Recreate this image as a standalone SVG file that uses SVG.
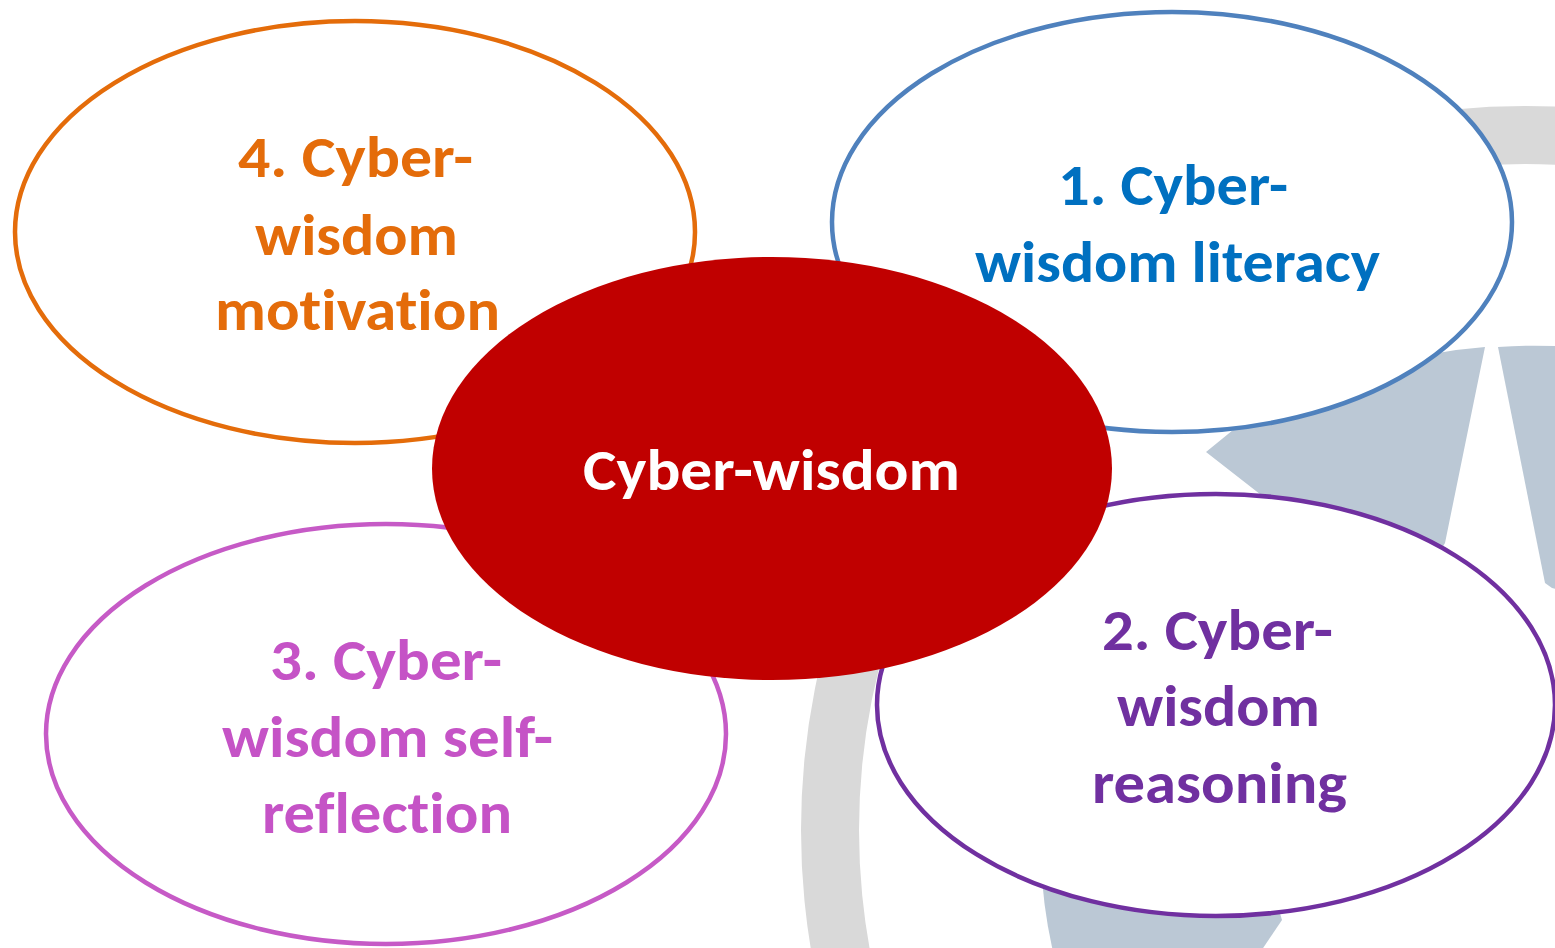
<svg xmlns="http://www.w3.org/2000/svg" width="1555" height="948" viewBox="0 0 1555 948">
<style>
.bg{fill:#ffffff}
.ring{fill:#d9d9d9;fill-rule:evenodd}
.arrow{fill:#bbc8d5}
.node{fill:#ffffff;stroke-width:4.5}
.t{font-family:Carlito,Lato,"Open Sans",sans-serif;font-weight:bold;font-size:59px;font-variant-ligatures:none;font-feature-settings:"liga" 0,"clig" 0}
.n4{stroke:#e46c0a}.t4{fill:#e46c0a}
.n1{stroke:#4f81bd}.t1{fill:#0070c0}
.n3{stroke:#c65ac6}.t3{fill:#c553c6}
.n2{stroke:#7030a0}.t2{fill:#7030a0}
.center{fill:#c00000}
.tc{fill:#ffffff}
</style>
<rect class="bg" x="0" y="0" width="1555" height="948"/>
<g id="background">
<path class="ring" d="M 801 830 A 724 724 0 1 1 2249 830 A 724 724 0 1 1 801 830 Z M 859 830 A 666 666 0 1 0 2191 830 A 666 666 0 1 0 859 830 Z"/>
<path class="arrow" d="M 1260 408 L 1300 400 A 485 485 0 0 1 1485 347 L 1445 543 L 1400 620 L 1320 541 L 1206 452 Z"/>
<path class="arrow" d="M 1498 347 A 485 485 0 0 1 1570 347 L 1570 592 L 1552 588 L 1545 583 Z"/>
<path class="arrow" d="M 1100 820 L 1041 860 A 485 485 0 0 0 1055 960 L 1255 960 L 1282 920 L 1270 880 Z"/>
</g>
<g id="connectors"></g>
<g id="node4">
<ellipse class="node n4" cx="355" cy="232" rx="340" ry="211"/>
<text class="t t4" x="238" y="177" textLength="235" lengthAdjust="spacingAndGlyphs">4. Cyber-</text>
<text class="t t4" x="255" y="255" textLength="203" lengthAdjust="spacingAndGlyphs">wisdom</text>
<text class="t t4" x="215" y="330" textLength="285" lengthAdjust="spacingAndGlyphs">motivation</text>
</g>
<g id="node1">
<ellipse class="node n1" cx="1172" cy="222" rx="340" ry="210"/>
<text class="t t1" x="1058" y="205" textLength="230" lengthAdjust="spacingAndGlyphs">1. Cyber-</text>
<text class="t t1" x="975" y="282" textLength="405" lengthAdjust="spacingAndGlyphs">wisdom literacy</text>
</g>
<g id="node3">
<ellipse class="node n3" cx="386" cy="734" rx="340" ry="210"/>
<text class="t t3" x="270" y="680" textLength="232" lengthAdjust="spacingAndGlyphs">3. Cyber-</text>
<text class="t t3" x="222" y="757" textLength="331" lengthAdjust="spacingAndGlyphs">wisdom self-</text>
<text class="t t3" x="262" y="833" textLength="250" lengthAdjust="spacingAndGlyphs">reflection</text>
</g>
<g id="node2">
<ellipse class="node n2" cx="1216" cy="705" rx="339" ry="211"/>
<text class="t t2" x="1102" y="650" textLength="231" lengthAdjust="spacingAndGlyphs">2. Cyber-</text>
<text class="t t2" x="1117" y="726" textLength="203" lengthAdjust="spacingAndGlyphs">wisdom</text>
<text class="t t2" x="1092" y="803" textLength="255" lengthAdjust="spacingAndGlyphs">reasoning</text>
</g>
<g id="center">
<ellipse class="center" cx="772" cy="468.5" rx="340" ry="211.5"/>
<text class="t tc" x="583" y="490" textLength="377" lengthAdjust="spacingAndGlyphs">Cyber-wisdom</text>
</g>
</svg>
